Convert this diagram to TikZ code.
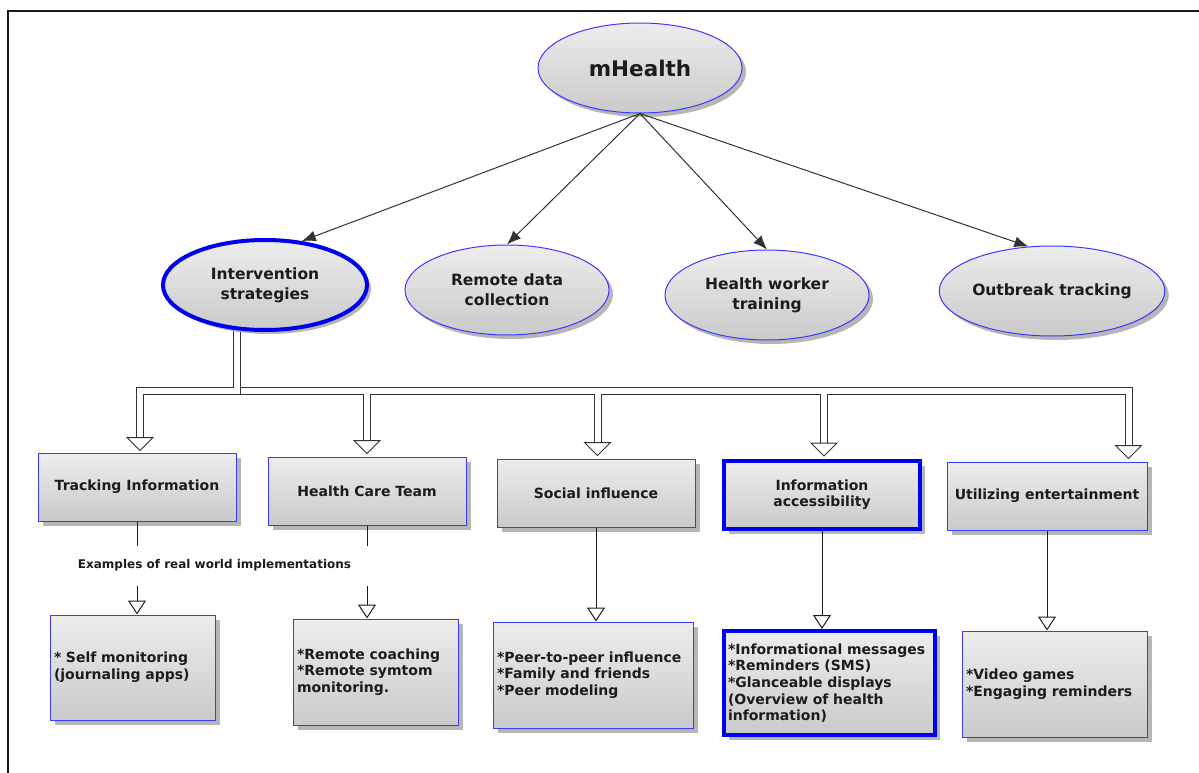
\documentclass[tikz,border=0pt]{standalone}
\usepackage{fontspec}
\setmainfont{DejaVu Sans}
\usetikzlibrary{arrows.meta,shadows,shapes.geometric,calc,backgrounds}

\definecolor{edgeblue}{RGB}{58,58,255}
\definecolor{hiblue}{RGB}{0,0,240}
\definecolor{shade}{RGB}{182,182,182}
\definecolor{filltop}{RGB}{237,237,237}
\definecolor{fillbot}{RGB}{202,202,202}
\definecolor{ink}{RGB}{28,28,28}
\definecolor{wire}{RGB}{50,50,50}

\begin{document}
\begin{tikzpicture}[x=1pt,y=-1pt,
  every node/.style={text=ink},
  topic/.style={ellipse, draw=edgeblue, line width=1pt,
    top color=filltop, bottom color=fillbot,
    minimum width=204pt, minimum height=90pt, inner sep=0pt, align=center,
    font=\bfseries\fontsize{15.5}{20}\selectfont,
    drop shadow={shadow xshift=4pt, shadow yshift=-4pt, fill=shade, opacity=1}},
  catbox/.style={rectangle, draw=edgeblue, line width=1pt,
    top color=filltop, bottom color=fillbot,
    minimum width=198pt, minimum height=68pt, inner sep=0pt, align=center,
    font=\bfseries\fontsize{14}{16}\selectfont,
    drop shadow={shadow xshift=5pt, shadow yshift=-5pt, fill=shade, opacity=1}},
  exbox/.style={rectangle, draw=edgeblue, line width=1pt,
    top color=filltop, bottom color=fillbot,
    inner xsep=4pt, inner ysep=0pt, align=left,
    font=\bfseries\fontsize{14}{16.7}\selectfont,
    drop shadow={shadow xshift=5pt, shadow yshift=-5pt, fill=shade, opacity=1}},
  hi/.style={draw=hiblue, line width=4pt},
  note/.style={font=\bfseries\fontsize{12}{14}\selectfont, inner sep=1pt},
  link/.style={draw=ink, line width=1pt},
  spoke/.style={draw=wire, line width=1pt, -{Latex[length=14pt,width=11pt]}},
  hollow/.style={-{Triangle[open,length=14pt,width=18pt]}},
  pipeouter/.style={draw=wire, line width=8pt},
  pipeinner/.style={draw=white, line width=6pt},
  bigtip/.style={draw=wire, line width=1pt, fill=white, line join=miter}
]
\useasboundingbox (0,0) rectangle (1199,773);

% page frame
\draw[black!90, line width=2pt] (8,773) -- (8,11) -- (1199,11);

% root and the four branches
\node[topic, font=\bfseries\fontsize{21.5}{24}\selectfont] (mh) at (640,68) {mHealth};
\node[topic, hi] (int) at (265,285) {Intervention\\strategies};
\node[topic] (rdc) at (507,290) {Remote data\\collection};
\node[topic] (hwt) at (767,295) {Health worker\\training};
\node[topic] (ob) at (1052,291) {Outbreak tracking};

\draw[spoke] (mh.south) -- (int.50);
\draw[spoke] (mh.south) -- (rdc.north);
\draw[spoke] (mh.south) -- (hwt.north);
\draw[spoke] (mh.south) -- (ob.118);

% intervention categories
\node[catbox] (track) at (137,487) {Tracking Information};
\node[catbox] (hct) at (367,491) {Health Care Team};
\node[catbox] (soc) at (596,493) {Social influence};
\node[catbox, hi, minimum width=196pt] (acc) at (822,495) {Information\\accessibility};
\node[catbox, minimum width=200pt] (ent) at (1047,496) {Utilizing entertainment};

% real world examples
\node[exbox, text width=157pt, minimum height=105pt] (selfm) at (132.5,667.5)
  {* Self monitoring\\(journaling apps)};
\node[exbox, text width=157pt, minimum height=106pt] (coach) at (375.5,672)
  {*Remote coaching\\{}*Remote symtom\\monitoring.};
\node[exbox, text width=192pt, minimum height=106pt] (peer) at (593,675)
  {*Peer-to-peer influence\\{}*Family and friends\\{}*Peer modeling};
\node[exbox, hi, text width=203pt, minimum height=104pt] (msgs) at (829.5,683)
  {*Informational messages\\{}*Reminders (SMS)\\{}*Glanceable displays\\(Overview of health\\information)};
\node[exbox, text width=177pt, minimum height=106pt] (games) at (1054.5,684)
  {*Video games\\{}*Engaging reminders};

% hollow block arrows from the intervention node
\coordinate (trunk) at (236.5,325);
\coordinate (split) at (236.5,390.5);
\coordinate (aT) at ($(track.north)+(3,-2)$);
\coordinate (aH) at ($(hct.north)+(0,-3)$);
\coordinate (aS) at ($(soc.north)+(1.5,-3)$);
\coordinate (aA) at ($(acc.north)+(2,-3)$);
\coordinate (aE) at ($(ent.north east)+(-19,-3)$);
\foreach \t in {T,H,S,A,E} {\coordinate (b\t) at ($(a\t)+(0,-13)$);}

\begin{scope}[on background layer]
  \foreach \t in {H,S,A,E} {\draw[pipeouter] (trunk) -- (split) -| (b\t);}
  \foreach \t in {H,S,A,E} {\draw[pipeinner] (trunk) -- (split) -| (b\t);}
  \draw[pipeouter] (trunk) -- (split) -| (bT);
  \draw[pipeinner] (trunk) -- (split) -| (bT);
\end{scope}
\foreach \t in {T,H,S,A,E} {\draw[bigtip] (a\t) -- ++(-13,-13) -- ++(26,0) -- cycle;}

% links to the examples
\node[note] (exlabel) at (214.5,565) {Examples of real world implementations};
\coordinate (tU) at ($(track.south)+(0,24)$);
\coordinate (tD) at ($(track.south)+(0,64)$);
\coordinate (hU) at ($(hct.south)+(0,20)$);
\coordinate (hD) at ($(hct.south)+(0,60)$);
\draw[link] (track.south) -- (tU);
\draw[link, hollow] (tD) -- (tD |- selfm.north);
\draw[link] (hct.south) -- (hU);
\draw[link, hollow] (hD) -- (hD |- coach.north);
\draw[link, hollow] (soc.south) -- (soc.south |- peer.north);
\draw[link, hollow] (acc.south) -- (acc.south |- msgs.north);
\draw[link, hollow] (ent.south) -- (ent.south |- games.north);
\end{tikzpicture}
\end{document}
